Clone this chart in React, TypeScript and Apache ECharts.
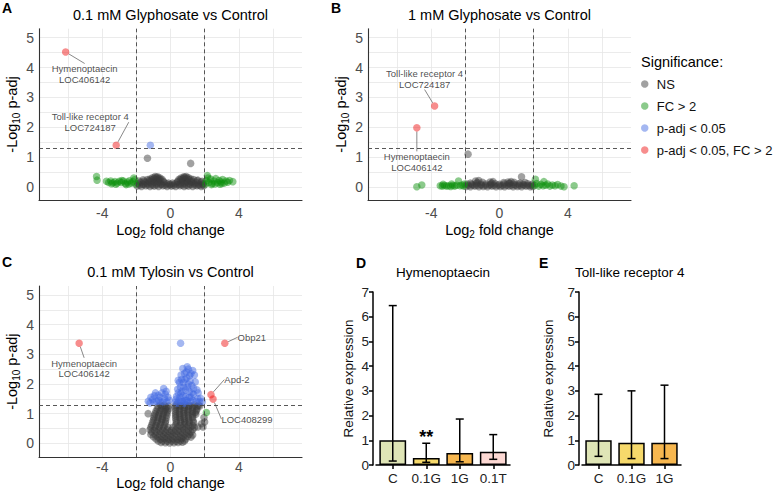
import React, { useEffect, useRef } from "react";
import * as echarts from "echarts";

const FONT = "'Liberation Sans', Arial, Helvetica, sans-serif";

// ---------- Panel A: 0.1 mM Glyphosate vs Control ----------
const aNS: number[][] = [
  [-1.95, 0.03], [-1.7, 0.02], [-1.45, 0.04], [-1.2, 0.02], [-0.95, 0.03], [-0.7, 0.02], [-0.45, 0.04], [-0.2, 0.02],
  [0.05, 0.03], [0.3, 0.02], [0.55, 0.04], [0.8, 0.02], [1.05, 0.03], [1.3, 0.02], [1.55, 0.04], [1.8, 0.02], [1.95, 0.04],
  [-1.82, 0.07], [-1.57, 0.08], [-1.32, 0.07], [-1.07, 0.06], [-0.82, 0.07], [-0.57, 0.08], [-0.32, 0.06], [-0.07, 0.07],
  [0.18, 0.06], [0.43, 0.08], [0.68, 0.07], [0.93, 0.06], [1.18, 0.08], [1.43, 0.07], [1.68, 0.06], [1.88, 0.08],
  [-1.9, 0.12], [-1.62, 0.1], [-1.35, 0.12], [-1.08, 0.11], [-0.8, 0.12], [-0.52, 0.1], [-0.25, 0.11], [0.0, 0.09],
  [0.27, 0.11], [0.55, 0.1], [0.82, 0.12], [1.1, 0.11], [1.38, 0.12], [1.65, 0.1], [1.92, 0.12],
  [-1.75, 0.16], [-1.48, 0.15], [-1.2, 0.17], [-0.93, 0.16], [-0.66, 0.15], [-0.38, 0.16], [-0.12, 0.13], [0.12, 0.13],
  [0.4, 0.16], [0.68, 0.15], [0.95, 0.17], [1.22, 0.16], [1.5, 0.15], [1.78, 0.17],
  [-1.85, 0.2], [-1.55, 0.19], [-1.25, 0.21], [-0.98, 0.2], [-0.7, 0.21], [-0.42, 0.19],
  [0.42, 0.19], [0.7, 0.21], [0.98, 0.2], [1.25, 0.19], [1.55, 0.21], [1.85, 0.19],
  [-1.6, 0.24], [-1.35, 0.25], [-1.1, 0.24], [-0.85, 0.25], [-0.6, 0.24], [0.6, 0.24], [0.85, 0.25], [1.1, 0.24],
  [1.35, 0.25], [1.6, 0.23],
  [-1.2, 0.27], [-0.95, 0.29], [-0.7, 0.28], [-0.5, 0.26], [0.5, 0.26], [0.72, 0.28], [0.95, 0.29], [1.2, 0.27],
  [-1.05, 0.31], [-0.82, 0.32], [-0.62, 0.3], [0.62, 0.3], [0.82, 0.32], [1.05, 0.31],
  [-0.9, 0.35], [-0.75, 0.34], [0.78, 0.34], [0.92, 0.35],
  [-1.35, 0.96], [1.18, 0.79],
];
const aFC: number[][] = [
  [-4.33, 0.35], [-4.3, 0.23], [-3.75, 0.19], [-3.62, 0.15], [-3.5, 0.2], [-3.38, 0.14], [-3.25, 0.18], [-3.12, 0.13],
  [-3.0, 0.19], [-2.88, 0.15], [-2.76, 0.2], [-2.64, 0.12], [-2.52, 0.17], [-2.4, 0.21], [-2.3, 0.13], [-2.2, 0.18],
  [-2.1, 0.24], [-2.05, 0.1], [-2.6, 0.08], [-3.2, 0.09], [-2.15, 0.3], [-2.45, 0.1], [-2.85, 0.22], [-3.45, 0.11],
  [2.05, 0.1], [2.1, 0.22], [2.16, 0.38], [2.25, 0.15], [2.35, 0.27], [2.45, 0.12], [2.55, 0.2], [2.65, 0.28],
  [2.75, 0.14], [2.85, 0.22], [2.95, 0.17], [3.05, 0.25], [3.15, 0.13], [3.25, 0.2], [3.35, 0.16], [3.45, 0.22],
  [3.65, 0.18], [2.4, 0.08], [2.9, 0.09], [2.2, 0.3], [2.6, 0.1], [3.0, 0.12],
];
const aP: number[][] = [[-1.18, 1.4]];
const aPFC: number[][] = [[-6.14, 4.52], [-3.18, 1.4]];
const aLabels = ["Hymenoptaecin\nLOC406142", "Toll-like receptor 4\nLOC724187"];

// ---------- Panel B: 1 mM Glyphosate vs Control ----------
const bNS: number[][] = [
  [-1.95, 0.02], [-1.7, 0.01], [-1.45, 0.03], [-1.2, 0.01], [-0.95, 0.02], [-0.7, 0.01], [-0.45, 0.03], [-0.2, 0.01],
  [0.05, 0.02], [0.3, 0.01], [0.55, 0.03], [0.8, 0.01], [1.05, 0.02], [1.3, 0.01], [1.55, 0.03], [1.8, 0.01], [1.95, 0.02],
  [-1.82, 0.05], [-1.57, 0.06], [-1.32, 0.05], [-1.07, 0.06], [-0.82, 0.05], [-0.57, 0.06], [-0.32, 0.05], [-0.07, 0.06],
  [0.18, 0.05], [0.43, 0.06], [0.68, 0.05], [0.93, 0.06], [1.18, 0.05], [1.43, 0.06], [1.68, 0.05], [1.88, 0.06],
  [-1.9, 0.1], [-1.62, 0.09], [-1.35, 0.11], [-1.08, 0.09], [-0.8, 0.1], [-0.52, 0.09], [-0.25, 0.11], [0.0, 0.09],
  [0.27, 0.1], [0.55, 0.11], [0.82, 0.09], [1.1, 0.1], [1.38, 0.09], [1.65, 0.11], [1.92, 0.1],
  [-1.4, 0.2], [-1.22, 0.22], [-1.3, 0.15], [-0.55, 0.17], [-0.38, 0.18], [-0.45, 0.13], [0.5, 0.17], [0.68, 0.18],
  [0.85, 0.16], [0.6, 0.13], [-1.0, 0.16], [0.25, 0.15], [1.5, 0.15], [-1.7, 0.13], [1.2, 0.13],
  [1.29, 0.34], [-1.84, 1.1],
];
const bFC: number[][] = [
  [-4.84, 0.01], [-4.55, 0.07], [-3.47, 0.04], [-3.35, 0.03], [-3.22, 0.05], [-3.1, 0.03], [-2.98, 0.04], [-2.86, 0.02],
  [-2.74, 0.05], [-2.62, 0.03], [-2.5, 0.06], [-2.4, 0.2], [-2.3, 0.04], [-2.2, 0.07], [-2.1, 0.03], [-2.05, 0.1],
  [-2.8, 0.1], [-3.3, 0.09],
  [2.05, 0.05], [2.1, 0.26], [2.18, 0.12], [2.3, 0.03], [2.42, 0.09], [2.55, 0.04], [2.6, 0.18], [2.7, 0.06],
  [2.82, 0.1], [2.95, 0.03], [3.1, 0.07], [3.25, 0.04], [3.4, 0.08], [3.6, 0.03], [3.78, 0.01], [4.37, 0.04],
];
const bP: number[][] = [];
const bPFC: number[][] = [[-3.8, 2.71], [-4.84, 1.98]];
const bLabels = ["Toll-like receptor 4\nLOC724187", "Hymenoptaecin\nLOC406142"];

// ---------- Panel C: 0.1 mM Tylosin vs Control ----------
const cNS: number[][] = [
  [-0.55, 0.03], [-0.3, 0.02], [-0.05, 0.01], [0.2, 0.02], [0.45, 0.03], [0.7, 0.04],
  [-0.72, 0.08], [-0.45, 0.08], [-0.18, 0.07], [0.08, 0.08], [0.33, 0.07], [0.58, 0.08], [0.82, 0.08],
  [-0.85, 0.15], [-0.6, 0.14], [-0.35, 0.16], [-0.1, 0.14], [0.15, 0.15], [0.4, 0.14], [0.65, 0.16], [0.9, 0.15],
  [-1.0, 0.22], [-0.75, 0.22], [-0.5, 0.23], [-0.25, 0.22], [0.0, 0.22], [0.25, 0.23], [0.5, 0.22], [0.75, 0.22],
  [1.0, 0.23], [1.2, 0.21],
  [-1.15, 0.3], [-0.9, 0.29], [-0.65, 0.31], [-0.4, 0.3], [-0.15, 0.29], [0.1, 0.3], [0.35, 0.31], [0.6, 0.29],
  [0.85, 0.3], [1.1, 0.31], [1.3, 0.28],
  [-1.1, 0.38], [-0.82, 0.38], [-0.57, 0.39], [-0.3, 0.37], [-0.05, 0.38], [0.2, 0.38], [0.45, 0.39], [0.7, 0.37],
  [0.95, 0.38], [1.2, 0.38],
  [-1.2, 0.46], [-0.95, 0.45], [-0.7, 0.47], [-0.45, 0.45], [-0.2, 0.46], [0.05, 0.44], [0.3, 0.46], [0.55, 0.45],
  [0.8, 0.47], [1.05, 0.45], [1.3, 0.46],
  [-1.15, 0.54], [-0.9, 0.54], [-0.65, 0.55], [-0.4, 0.53], [-0.15, 0.54], [0.15, 0.54], [0.42, 0.55], [0.68, 0.53],
  [0.92, 0.54], [1.18, 0.55], [1.4, 0.53],
  [-1.1, 0.62], [-0.85, 0.6], [-0.6, 0.63], [-0.35, 0.61], [0.3, 0.62], [0.55, 0.6], [0.8, 0.63], [1.05, 0.61], [1.3, 0.6],
  [-1.05, 0.7], [-0.8, 0.7], [-0.55, 0.71], [-0.3, 0.69], [0.35, 0.7], [0.6, 0.71], [0.85, 0.69], [1.1, 0.7], [1.35, 0.7],
  [-1.0, 0.78], [-0.75, 0.77], [-0.5, 0.79], [-0.28, 0.76], [0.32, 0.77], [0.58, 0.79], [0.82, 0.76], [1.08, 0.78], [1.32, 0.76],
  [-0.98, 0.85], [-0.72, 0.86], [-0.48, 0.84], [-0.25, 0.85], [0.3, 0.85], [0.55, 0.86], [0.8, 0.84], [1.05, 0.85], [1.3, 0.86],
  [-0.95, 0.93], [-0.7, 0.94], [-0.45, 0.92], [-0.22, 0.95], [0.3, 0.93], [0.55, 0.95], [0.8, 0.92], [1.05, 0.94],
  [1.3, 0.93], [1.48, 0.98],
  [-0.9, 1.0], [-0.65, 1.01], [-0.42, 1.0], [-0.2, 1.02], [0.3, 1.0], [0.52, 1.01], [0.78, 1.0], [1.02, 1.02],
  [1.28, 1.0], [1.45, 1.04],
  [-0.85, 1.08], [-0.6, 1.1], [-0.38, 1.07], [-0.18, 1.09], [0.28, 1.08], [0.52, 1.1], [0.78, 1.07], [1.02, 1.09],
  [1.28, 1.08], [1.52, 1.1],
  [-0.78, 1.16], [-0.52, 1.17], [-0.3, 1.15], [-0.12, 1.17], [0.3, 1.16], [0.55, 1.17], [0.8, 1.15], [1.05, 1.16],
  [1.3, 1.17], [1.55, 1.16],
  [-0.72, 1.23], [-0.48, 1.25], [-0.25, 1.22], [-0.1, 1.26], [0.3, 1.23], [0.55, 1.25], [0.8, 1.22], [1.05, 1.25],
  [1.3, 1.23], [1.55, 1.24], [1.72, 1.26],
  [-0.6, 1.29], [-0.35, 1.28], [0.32, 1.29], [0.58, 1.28], [0.85, 1.29], [1.12, 1.28], [1.4, 1.29], [1.65, 1.28],
  [-1.63, 0.41], [-1.31, 1.0], [1.82, 0.66], [1.96, 0.87], [1.9, 0.55], [2.0, 0.72], [1.6, 0.55],
];
const cFC: number[][] = [[2.1, 1.04]];
const cP: number[][] = [
  [-1.3, 1.42], [-1.05, 1.48], [-0.88, 1.7], [-0.82, 1.42], [-0.62, 1.55], [-0.5, 1.7], [-0.4, 1.85], [-0.35, 1.5],
  [-0.22, 1.4], [-0.15, 1.55], [-0.6, 1.38], [-1.15, 1.55], [-0.95, 1.6], [-0.72, 1.62], [-0.7, 1.45], [-0.45, 1.4],
  [-0.3, 1.65], [-0.25, 1.75], [-0.08, 1.45], [-1.2, 1.36], [-0.98, 1.38],
  [0.28, 1.38], [0.35, 1.58], [0.42, 1.82], [0.5, 1.45], [0.52, 2.05], [0.6, 1.68], [0.62, 2.3], [0.7, 1.42],
  [0.72, 2.52], [0.78, 1.9], [0.85, 2.15], [0.9, 1.58], [0.92, 2.4], [0.98, 2.58], [1.05, 2.0], [1.1, 1.75],
  [1.12, 2.28], [1.18, 1.42], [1.25, 1.95], [1.3, 2.45], [1.35, 1.65], [1.45, 2.07], [1.5, 1.42], [1.62, 1.7],
  [1.75, 1.52], [1.86, 1.4], [1.0, 1.38], [0.45, 2.12], [0.8, 1.35], [0.68, 1.75], [1.2, 1.55],
  [0.32, 1.48], [0.4, 1.35], [0.45, 1.7], [0.55, 1.55], [0.58, 1.9], [0.65, 2.15], [0.75, 2.05], [0.75, 1.6],
  [0.82, 2.35], [0.88, 1.8], [0.95, 1.45], [0.95, 2.2], [1.0, 1.9], [1.05, 2.5], [1.1, 1.55], [1.15, 2.1],
  [1.25, 1.7], [1.3, 1.45], [1.35, 1.85], [1.4, 2.3], [1.55, 1.8], [1.6, 1.5], [1.7, 1.4], [1.2, 2.35],
  [0.85, 1.45], [0.6, 1.4],
  [0.59, 3.37],
];
const cPFC: number[][] = [[-5.35, 3.37], [3.18, 3.37], [2.37, 1.64], [2.49, 1.49]];
const cLabels = ["Hymenoptaecin\nLOC406142", "Obp21", "Apd-2", "LOC408299"];

// thresholds
const fcCut = [-2, 2];
const pCut = 1.301;

// tick labels
const volXTicks = [-4, 0, 4];
const volYTicks = [0, 1, 2, 3, 4, 5];

// ---------- Panel D: Hymenoptaecin qPCR ----------
const dCats = ["C", "0.1G", "1G", "0.1T"];
const dMean = [1.0, 0.28, 0.49, 0.54];
const dLow = [0.16, 0.11, 0.13, 0.23];
const dHigh = [6.45, 0.88, 1.86, 1.23];
const dSig = ["", "**", "", ""];

// ---------- Panel E: Toll-like receptor 4 qPCR ----------
const eCats = ["C", "0.1G", "1G"];
const eMean = [1.0, 0.9, 0.9];
const eLow = [0.35, 0.26, 0.26];
const eHigh = [2.86, 3.0, 3.23];
const eSig = ["", "", ""];

const legendNames = ["NS", "FC > 2", "p-adj < 0.05", "p-adj < 0.05, FC > 2"];

// styles (not data)
const GRAY = "rgba(58,58,58,0.6)";
const GREEN = "rgba(13,144,13,0.6)";
const BLUE = "rgba(65,105,225,0.6)";
const RED = "rgba(238,17,17,0.6)";
const BAR_COLORS = ["#dfe5b6", "#f6d96b", "#f7b74f", "#fcd8d3"];
const LABEL_OFFSETS: number[][][] = [
  [[19, 22], [-26, -23]],
  [[-10, -27], [0, 34]],
  [[5, 25], [27, -6], [26, -15], [34, 20]],
];

const nameRich = {
  a: { fontSize: 14.5, fontFamily: FONT, color: "#000", lineHeight: 18 },
  s: { fontSize: 10, fontFamily: FONT, color: "#000", lineHeight: 10, verticalAlign: "bottom" },
};

function isTick(v: number, list: number[]) {
  return list.some((t) => Math.abs(t - v) < 1e-6);
}

function volX(gi: number, nameGap: number, margin: number) {
  return {
    type: "value",
    gridIndex: gi,
    min: -7.7,
    max: 7.7,
    splitNumber: 8,
    minInterval: 2,
    maxInterval: 2,
    axisLine: { show: true, onZero: false, lineStyle: { color: "#333", width: 1.1 } },
    axisTick: { show: false },
    axisLabel: {
      color: "#4d4d4d",
      fontSize: 14,
      fontFamily: FONT,
      margin,
      showMinLabel: false,
      showMaxLabel: false,
      formatter: (v: number) => (isTick(v, volXTicks) ? String(Math.round(v)) : ""),
    },
    splitLine: { show: true, showMinLine: false, showMaxLine: false, lineStyle: { color: "#e6e6e6", width: 0.8 } },
    name: "{a|Log}{s|2}{a| fold change}",
    nameLocation: "middle",
    nameGap,
    nameTextStyle: { rich: nameRich },
  };
}

function volY(gi: number, min: number) {
  return {
    type: "value",
    gridIndex: gi,
    min,
    max: 5.3,
    splitNumber: 11,
    minInterval: 0.5,
    maxInterval: 0.5,
    axisLine: { show: true, onZero: false, lineStyle: { color: "#333", width: 1.1 } },
    axisTick: { show: false },
    axisLabel: {
      color: "#4d4d4d",
      fontSize: 14,
      fontFamily: FONT,
      margin: 5,
      showMinLabel: false,
      showMaxLabel: false,
      formatter: (v: number) => (isTick(v, volYTicks) ? String(Math.round(v)) : ""),
    },
    splitLine: { show: true, showMinLine: false, showMaxLine: false, lineStyle: { color: "#e6e6e6", width: 0.8 } },
    name: "{a|-Log}{s|10}{a| p-adj}",
    nameLocation: "middle",
    nameRotate: 90,
    nameGap: 18,
    nameTextStyle: { rich: nameRich },
  };
}

function volSeries(gi: number, ns: number[][], fc: number[][], p: number[][], pfc: number[][], labels: string[]) {
  const offs = LABEL_OFFSETS[gi];
  const common = { type: "scatter", xAxisIndex: gi, yAxisIndex: gi, symbolSize: 7.5, silent: true };
  return [
    {
      ...common,
      name: legendNames[0],
      data: ns,
      itemStyle: { color: GRAY },
      markLine: {
        silent: true,
        symbol: ["none", "none"],
        label: { show: false },
        lineStyle: { type: [4, 3], color: "#444", width: 0.9 },
        data: [{ xAxis: fcCut[0] }, { xAxis: fcCut[1] }, { yAxis: pCut }],
      },
    },
    { ...common, name: legendNames[1], data: fc, itemStyle: { color: GREEN } },
    { ...common, name: legendNames[2], data: p, itemStyle: { color: BLUE } },
    {
      ...common,
      name: legendNames[3],
      data: pfc.map((v, i) => ({ value: v, name: labels[i] })),
      itemStyle: { color: RED },
      label: {
        show: true,
        position: "inside",
        formatter: "{b}",
        fontSize: 9.5,
        lineHeight: 10.5,
        color: "#1a1a1a",
        fontFamily: FONT,
        align: "center",
      },
      labelLayout: (prm: any) => ({ dx: offs[prm.dataIndex][0], dy: offs[prm.dataIndex][1] }),
      labelLine: { show: true, lineStyle: { color: "#555", width: 0.7 } },
    },
  ];
}

function barX(gi: number, cats: string[]) {
  return {
    type: "category",
    gridIndex: gi,
    data: cats,
    axisLine: { show: true, lineStyle: { color: "#000", width: 1.5 } },
    axisTick: { show: true, alignWithLabel: true, length: 4, lineStyle: { color: "#000", width: 1.5 } },
    axisLabel: { color: "#222", fontSize: 13.5, fontFamily: FONT, margin: 6, interval: 0 },
  };
}

function barY(gi: number, offset: number, nameGap: number) {
  return {
    type: "value",
    gridIndex: gi,
    min: 0,
    max: 7,
    interval: 1,
    offset,
    axisLine: { show: true, lineStyle: { color: "#000", width: 1.5 } },
    axisTick: { show: true, length: 4, lineStyle: { color: "#000", width: 1.5 } },
    axisLabel: { color: "#222", fontSize: 13.5, fontFamily: FONT, margin: 4 },
    splitLine: { show: false },
    name: "Relative expression",
    nameLocation: "middle",
    nameRotate: 90,
    nameGap,
    nameTextStyle: { fontSize: 13.5, fontFamily: FONT, color: "#111" },
  };
}

function barSeries(gi: number, mean: number[], lo: number[], hi: number[], sig: string[]) {
  return [
    {
      type: "bar",
      name: "bar" + gi,
      xAxisIndex: gi,
      yAxisIndex: gi,
      barWidth: "80%",
      silent: true,
      data: mean.map((v, i) => ({ value: v, itemStyle: { color: BAR_COLORS[i] } })),
      itemStyle: { borderColor: "#000", borderWidth: 1.5 },
    },
    {
      type: "custom",
      name: "err" + gi,
      xAxisIndex: gi,
      yAxisIndex: gi,
      silent: true,
      clip: false,
      z: 5,
      data: mean.map((_, i) => [i, lo[i], hi[i]]),
      encode: { x: 0, y: [1, 2] },
      renderItem: (params: any, api: any) => {
        const i = api.value(0);
        const pl = api.coord([i, api.value(1)]);
        const ph = api.coord([i, api.value(2)]);
        const w = 4;
        const st = { stroke: "#000", lineWidth: 1.5 };
        const children: any[] = [
          { type: "line", shape: { x1: pl[0], y1: pl[1], x2: ph[0], y2: ph[1] }, style: st },
          { type: "line", shape: { x1: ph[0] - w, y1: ph[1], x2: ph[0] + w, y2: ph[1] }, style: st },
          { type: "line", shape: { x1: pl[0] - w, y1: pl[1], x2: pl[0] + w, y2: pl[1] }, style: st },
        ];
        const s = sig[params.dataIndex];
        if (s) {
          children.push({
            type: "text",
            x: ph[0],
            y: ph[1] - 6,
            style: {
              text: s,
              fontSize: 18,
              fontWeight: "bold",
              fontFamily: FONT,
              fill: "#000",
              align: "center",
              verticalAlign: "middle",
            },
          });
        }
        return { type: "group", children };
      },
    },
  ];
}

function txt(text: string, x: number, y: number, size: number, bold = false, align = "center") {
  return {
    type: "text",
    x,
    y,
    silent: true,
    style: {
      text,
      fontSize: size,
      fontWeight: bold ? "bold" : "normal",
      fontFamily: FONT,
      fill: "#000",
      align,
      verticalAlign: "middle",
    },
  };
}

function buildOption() {
  return {
    animation: false,
    backgroundColor: "#fff",
    textStyle: { fontFamily: FONT },
    grid: [
      { left: 39, top: 28.7, width: 263, height: 171.6 },
      { left: 368, top: 28.7, width: 263, height: 171.6 },
      { left: 39, top: 286, width: 263, height: 171.3 },
      { left: 376, top: 292, width: 134, height: 173 },
      { left: 582, top: 292, width: 99, height: 173 },
    ],
    xAxis: [volX(0, 21, 6), volX(1, 21, 6), volX(2, 5, 3), barX(3, dCats), barX(4, eCats)],
    yAxis: [volY(0, -0.445), volY(1, -0.445), volY(2, -0.47), barY(3, 3, 18), barY(4, 3, 24)],
    legend: {
      data: legendNames,
      orient: "vertical",
      left: 636,
      top: 72.5,
      itemWidth: 14,
      itemHeight: 7.5,
      itemGap: 9,
      icon: "circle",
      selectedMode: false,
      textStyle: { fontSize: 13, color: "#111", fontFamily: FONT },
    },
    graphic: [
      txt("A", 2, 8, 14, true, "left"),
      txt("B", 331, 8, 14, true, "left"),
      txt("C", 2, 262, 14, true, "left"),
      txt("D", 356, 263, 14, true, "left"),
      txt("E", 539, 263, 14, true, "left"),
      txt("0.1 mM Glyphosate vs Control", 170.5, 15, 14.5),
      txt("1 mM Glyphosate vs Control", 499.5, 15, 14.5),
      txt("0.1 mM Tylosin vs Control", 170.5, 272, 14.5),
      txt("Hymenoptaecin", 443, 272, 13.5),
      txt("Toll-like receptor 4", 575, 272, 13.5, false, "left"),
      txt("Significance:", 641, 62, 14.5, false, "left"),
    ],
    series: [
      ...volSeries(0, aNS, aFC, aP, aPFC, aLabels),
      ...volSeries(1, bNS, bFC, bP, bPFC, bLabels),
      ...volSeries(2, cNS, cFC, cP, cPFC, cLabels),
      ...barSeries(3, dMean, dLow, dHigh, dSig),
      ...barSeries(4, eMean, eLow, eHigh, eSig),
    ],
  };
}

export default function App() {
  const ref = useRef<HTMLDivElement>(null);
  useEffect(() => {
    document.body.style.margin = "0";
    const chart = echarts.init(ref.current as HTMLDivElement, null, { renderer: "svg" });
    chart.setOption(buildOption() as any);
    return () => chart.dispose();
  }, []);
  return (
    <div
      ref={ref}
      style={{ position: "absolute", left: 0, top: 0, width: 784, height: 496, background: "#fff" }}
    />
  );
}
